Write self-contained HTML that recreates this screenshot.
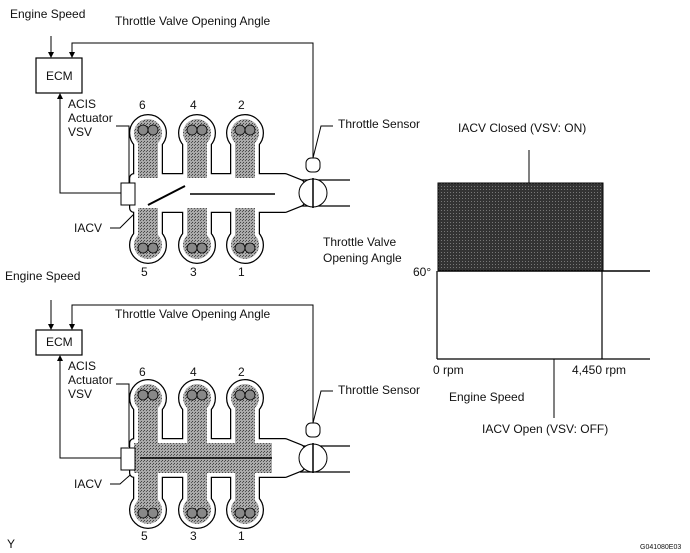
<!DOCTYPE html>
<html><head><style>
body{margin:0;background:#fff;}
svg{display:block;font-family:"Liberation Sans",Arial,sans-serif;}
text{font-size:12px;fill:#111;}
</style></head><body>
<svg width="690" height="553" viewBox="0 0 690 553">
<defs>
<pattern id="st" width="3" height="3" patternUnits="userSpaceOnUse"><rect width="3" height="3" fill="#aaa"/><rect width="1" height="1" fill="#444"/><rect x="2" y="1" width="1" height="1" fill="#555"/></pattern>
<pattern id="dk" width="3" height="3" patternUnits="userSpaceOnUse"><rect width="3" height="3" fill="#333"/><rect width="1" height="1" fill="#777"/></pattern>
<marker id="ar" markerWidth="6" markerHeight="6" refX="5" refY="3" orient="auto"><path d="M0,0 L6,3 L0,6z" fill="#000"/></marker>
<g id="rn">
  <circle cx="148" cy="133" r="14"/><circle cx="197" cy="133" r="14"/><circle cx="245" cy="133" r="14"/>
  <circle cx="148" cy="245" r="14"/><circle cx="197" cy="245" r="14"/><circle cx="245" cy="245" r="14"/>
  <rect x="138" y="133" width="20" height="112"/><rect x="187" y="133" width="20" height="112"/><rect x="235" y="133" width="20" height="112"/>
</g>
<polygon id="pl" points="134,178 285,178 300,184 300,202 285,208 134,208"/>
<g id="cyl" fill="#888" stroke="#000" stroke-width="0.8">
   <circle cx="143" cy="130" r="5"/><circle cx="153" cy="130" r="5"/>
   <circle cx="192" cy="130" r="5"/><circle cx="202" cy="130" r="5"/>
   <circle cx="240" cy="130" r="5"/><circle cx="250" cy="130" r="5"/>
   <circle cx="143" cy="248" r="5"/><circle cx="153" cy="248" r="5"/>
   <circle cx="192" cy="248" r="5"/><circle cx="202" cy="248" r="5"/>
   <circle cx="240" cy="248" r="5"/><circle cx="250" cy="248" r="5"/>
</g>
<g id="outline">
  <g fill="#000" stroke="#000" stroke-width="10" stroke-linejoin="round"><use href="#rn"/><use href="#pl"/></g>
  <g fill="#fff" stroke="#fff" stroke-width="7.5" stroke-linejoin="round"><use href="#rn"/><use href="#pl"/></g>
  <g fill="url(#st)"><use href="#rn"/></g>
</g>
</defs>

<!-- TOP DIAGRAM -->
<text x="10" y="18">Engine Speed</text>
<text x="115" y="25">Throttle Valve Opening Angle</text>
<rect x="36" y="58" width="46" height="35" fill="#fff" stroke="#000" stroke-width="1.2"/>
<text x="46" y="80">ECM</text>
<line x1="51" y1="36" x2="51" y2="57" stroke="#000" marker-end="url(#ar)"/>
<polyline points="313,160 313,43 72,43 72,57" fill="none" stroke="#000" marker-end="url(#ar)"/>
<polyline points="121,193 60,193 60,94" fill="none" stroke="#000" marker-end="url(#ar)"/>
<text x="68" y="108">ACIS</text><text x="68" y="122">Actuator</text><text x="68" y="136">VSV</text>
<polyline points="116,126 129,126 129,183" fill="none" stroke="#000"/>
<text x="74" y="232">IACV</text>
<path d="M110,228 L120,228 L138,210" fill="none" stroke="#000"/>
<path d="M300,180 L350,180 M300,206 L350,206" stroke="#000" fill="none" stroke-width="1.2"/>
<use href="#outline"/>
<use href="#pl" fill="#fff"/>
<use href="#cyl"/>
<line x1="148" y1="205" x2="185" y2="186" stroke="#000" stroke-width="2"/>
<line x1="190" y1="194" x2="275" y2="194" stroke="#000" stroke-width="1.5"/>
<rect x="121" y="183" width="14" height="22" fill="#fff" stroke="#000"/>
<circle cx="313" cy="193" r="14" fill="#fff" stroke="#000"/>
<line x1="313" y1="178" x2="313" y2="208" stroke="#000" stroke-width="1.5"/>
<rect x="306" y="158" width="14" height="14" rx="5" fill="#fff" stroke="#000"/>
<polyline points="313,158 321,126 333,126" fill="none" stroke="#000"/>
<text x="338" y="128">Throttle Sensor</text>
<text x="139" y="109">6</text><text x="190" y="109">4</text><text x="238" y="109">2</text>
<text x="141" y="276">5</text><text x="190" y="276">3</text><text x="238" y="276">1</text>

<!-- BOTTOM DIAGRAM -->
<text x="5" y="280">Engine Speed</text>
<text x="115" y="318">Throttle Valve Opening Angle</text>
<rect x="36" y="330" width="46" height="25" fill="#fff" stroke="#000" stroke-width="1.2"/>
<text x="46" y="346">ECM</text>
<line x1="51" y1="300" x2="51" y2="329" stroke="#000" marker-end="url(#ar)"/>
<polyline points="313,428 313,305 72,305 72,329" fill="none" stroke="#000" marker-end="url(#ar)"/>
<polyline points="121,458 60,458 60,356" fill="none" stroke="#000" marker-end="url(#ar)"/>
<text x="68" y="370">ACIS</text><text x="68" y="384">Actuator</text><text x="68" y="398">VSV</text>
<polyline points="116,384 129,384 129,447" fill="none" stroke="#000"/>
<text x="74" y="488">IACV</text>
<path d="M110,484 L120,484 L138,468" fill="none" stroke="#000"/>
<path d="M300,446 L350,446 M300,472 L350,472" stroke="#000" fill="none" stroke-width="1.2"/>
<g transform="translate(0,265)">
<use href="#outline"/>
<polygon points="134,178 272,178 272,208 134,208" fill="url(#st)"/>
<polygon points="272,178 285,178 300,184 300,202 285,208 272,208" fill="#fff"/>
<use href="#cyl"/>
<line x1="140" y1="193" x2="272" y2="193" stroke="#000" stroke-width="1.5"/>
<rect x="121" y="183" width="14" height="22" fill="#fff" stroke="#000"/>
<circle cx="313" cy="193" r="14" fill="#fff" stroke="#000"/>
<line x1="313" y1="178" x2="313" y2="208" stroke="#000" stroke-width="1.5"/>
<rect x="306" y="158" width="14" height="14" rx="5" fill="#fff" stroke="#000"/>
<polyline points="313,158 321,126 333,126" fill="none" stroke="#000"/>
</g>
<text x="338" y="394">Throttle Sensor</text>
<text x="139" y="376">6</text><text x="190" y="376">4</text><text x="238" y="376">2</text>
<text x="141" y="540">5</text><text x="190" y="540">3</text><text x="238" y="540">1</text>
<text x="7" y="548" font-size="10">Y</text>
<text x="640" y="549" style="font-size:7px">G041080E03</text>

<!-- GRAPH -->
<text x="458" y="132">IACV Closed (VSV: ON)</text>
<line x1="529" y1="150" x2="529" y2="183" stroke="#000"/>
<rect x="438" y="183" width="165" height="88" fill="url(#dk)" stroke="#000"/>
<line x1="438" y1="271" x2="650" y2="271" stroke="#000" stroke-width="1.5"/>
<line x1="437" y1="359" x2="650" y2="359" stroke="#000" stroke-width="1.2"/>
<line x1="437" y1="271" x2="437" y2="359" stroke="#000" stroke-width="1.2"/>
<line x1="602" y1="271" x2="602" y2="359" stroke="#000" stroke-width="1.2"/>
<text x="323" y="246">Throttle Valve</text>
<text x="323" y="262">Opening Angle</text>
<text x="413" y="276">60°</text>
<text x="433" y="374">0 rpm</text>
<text x="572" y="374">4,450 rpm</text>
<text x="449" y="401">Engine Speed</text>
<line x1="554" y1="359" x2="554" y2="418" stroke="#000"/>
<text x="482" y="433">IACV Open (VSV: OFF)</text>
</svg>
</body></html>
